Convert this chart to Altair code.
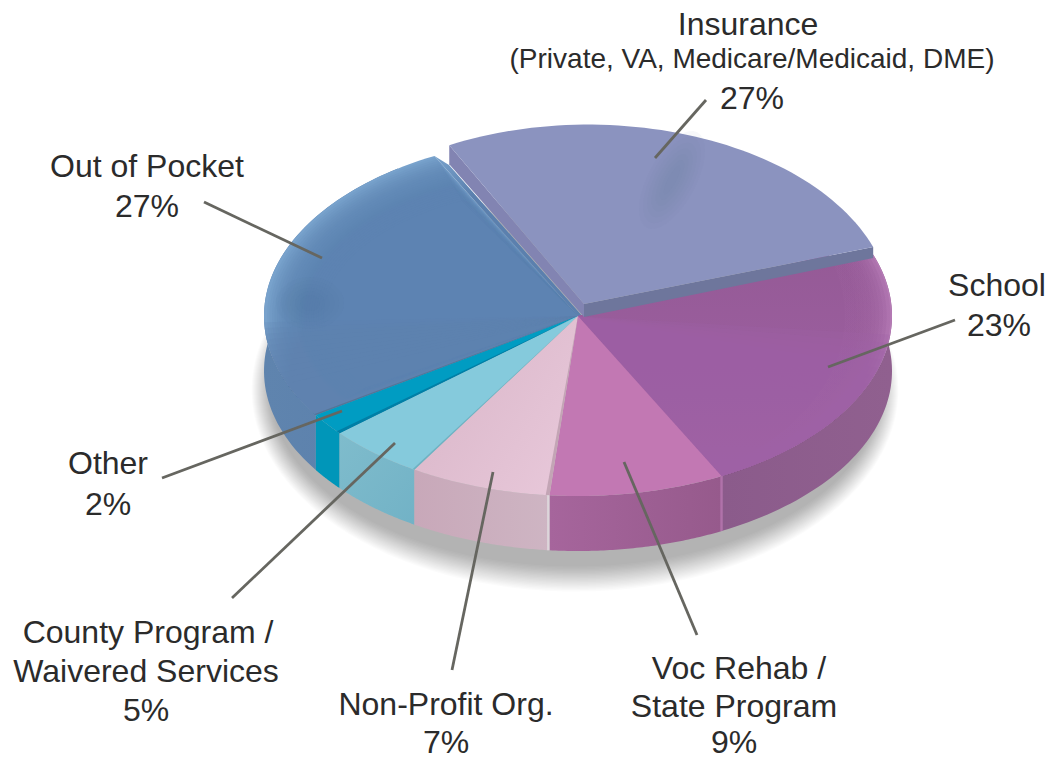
import numpy as np
import altair as alt

# ---- chart data -------------------------------------------------------
slices = ["School", "Voc Rehab / State Program", "Non-Profit Org.",
          "County Program / Waivered Services", "Other", "Out of Pocket", "Insurance"]
shares = [23, 9, 7, 5, 2, 27, 27]

label_lines = ["Insurance", "(Private, VA, Medicare/Medicaid, DME)", "27%",
               "Out of Pocket", "27%", "School", "23%", "Other", "2%",
               "County Program /", "Waivered Services", "5%",
               "Non-Profit Org.", "7%", "Voc Rehab /", "State Program", "9%"]
label_x = [748, 752, 752, 147, 147, 997, 999, 108, 108, 148, 146, 146, 446, 446, 739, 734, 734]
label_y = [25, 60, 99, 167, 207, 286, 326, 464, 505, 633, 672, 711, 705, 743, 669, 707, 743]
label_size = [32, 28, 32, 32, 32, 32, 32, 32, 32, 32, 32, 32, 32, 32, 32, 32, 32]

leader_x1 = [706, 204, 955, 162, 232, 452, 697]
leader_y1 = [100, 202, 320, 478, 598, 670, 635]
leader_x2 = [655, 322, 828, 342, 395, 493, 624]
leader_y2 = [158, 258, 367, 411, 443, 472, 462]

# ---- geometry of the tilted disc --------------------------------------
CX, CY, RX, RY, DEPTH = 578, 316, 314, 180, 55
START = 20.0


def rim(t, sx=1.0, sy=1.0, cx=CX, cy=CY):
    r = np.radians(t)
    return np.column_stack([cx + RX * sx * np.cos(r), cy - RY * sy * np.sin(r)])


def arc(t0, t1, n=60, **kw):
    return rim(np.linspace(t0, t1, n), **kw)


def poly(points):
    pts = [[float(x), float(y)] for x, y in points]
    pts.append(pts[0])
    return {"type": "Feature", "properties": {},
            "geometry": {"type": "Polygon", "coordinates": [pts]}}


def sector(t0, t1, sx=1.0, sy=1.0, cx=CX, cy=CY, apex=None):
    tip = apex if apex is not None else (cx, cy)
    return poly(np.vstack([[list(tip)], arc(t0, t1, sx=sx, sy=sy, cx=cx, cy=cy)]))


def wall(t0, t1):
    top = arc(t0, t1)
    low = top[::-1] + [0, DEPTH]
    return poly(np.vstack([top, low]))


def ellipse(sx, sy, cx, cy):
    return poly(rim(np.linspace(0, 358, 120), sx=sx, sy=sy, cx=cx, cy=cy))


def tilted_blob(cx, cy, rx, ry, rot):
    t = np.radians(np.linspace(0, 350, 36))
    c, s = np.cos(np.radians(rot)), np.sin(np.radians(rot))
    x, y = rx * np.cos(t), ry * np.sin(t)
    return poly(np.column_stack([cx + x * c - y * s, cy + x * s + y * c]))


def lin(c0, c1, x1=0, y1=0, x2=0, y2=1, mid=None):
    stops = [alt.GradientStop(color=c0, offset=0)]
    if mid is not None:
        stops.append(alt.GradientStop(color=c1, offset=mid))
    stops.append(alt.GradientStop(color=c1, offset=1))
    return alt.LinearGradient(gradient="linear", x1=x1, y1=y1, x2=x2, y2=y2, stops=stops)


layers = []


def add(feature, fill, opacity=1.0):
    layers.append(alt.Chart(alt.Data(values=[feature])).mark_geoshape(
        fill=fill, opacity=opacity, strokeWidth=0))


# boundaries of each slice, clockwise from START; the three lower-left
# boundaries are nudged to follow the perspective of the tilted disc
edges = START - np.cumsum([0] + shares) * 3.6
edges[3:6] -= 1.0
ang = {name: (edges[i], edges[i + 1]) for i, name in enumerate(slices)}

# ---- soft shadow below the disc ---------------------------------------
for k in np.linspace(1, 0, 20):
    add(ellipse(0.97 + 0.06 * k, 0.98 + 0.14 * k, CX - 3, CY + DEPTH + 19), "#000000", 0.0145)

# ---- Out of Pocket ----------------------------------------------------
t0, t1 = ang["Out of Pocket"]
add(wall(t0, -235), lin("#5b80ac", "#5f84ae", x1=1, y1=0, x2=0, y2=0))
add(sector(t0, t1), "#78a2cc")
for k in np.linspace(0, 1, 24):
    add(sector(t0, t1, sx=0.99 - 0.18 * k, sy=0.99 - 0.27 * k), "#5b80ae", 0.13)
for e in np.linspace(-178, -158, 12):
    add(sector(t0, e), "#5d82ae", 0.2)
for k in np.linspace(1, 0, 6):
    add(tilted_blob(310, 303, 10 + 24 * k, 8 + 18 * k, 0), "#4f7099", 0.05)
corner = rim(np.array([t1]))[0]
add(poly([corner, [449, 165], [584, 318], [CX, CY]]),
    lin("#78a2cc", "#5b80ae", x1=0, y1=0, x2=0.5, y2=0.5, mid=0.5))

# ---- Other ------------------------------------------------------------
t0, t1 = ang["Other"]
add(wall(t0, t1), "#0096b9")
add(sector(t0, t1), "#009cc2")

# ---- County -----------------------------------------------------------
t0, t1 = ang["County Program / Waivered Services"]
add(wall(t0, t1), lin("#7fbccc", "#72b2c6", x1=0, y1=0, x2=1, y2=1))
add(sector(t0, t1), "#85cadc")

# ---- Non-profit -------------------------------------------------------
t0, t1 = ang["Non-Profit Org."]
add(wall(t0, t1), lin("#c8a8b9", "#ceb5c3", x1=0, y1=0, x2=1, y2=0))
add(sector(t0, t1), lin("#d9b6c8", "#e8c8da", x1=0, y1=0.2, x2=1, y2=0.9))

# ---- Voc rehab --------------------------------------------------------
t0, t1 = ang["Voc Rehab / State Program"]
add(wall(t0, t1), lin("#a6659c", "#965a8c", x1=0, y1=0, x2=1, y2=0))

# ---- School -----------------------------------------------------------
t0, t1 = ang["School"]
add(wall(t0, t1), lin("#8b5b8b", "#90608f", x1=0, y1=0, x2=1, y2=0))
add(sector(t0, t1), "#b57ab5")
school_fill = lin("#955a96", "#a062a6")
for k in np.linspace(0, 1, 12):
    add(sector(t0, t1, sx=0.995 - 0.13 * k), school_fill, 0.25)
add(sector(t0, t1, sx=0.85), school_fill)
for e in np.linspace(-30, -6, 10):
    add(sector(t1, e), "#9e62a4", 0.28)

# Voc top goes over the School overlay
t0, t1 = ang["Voc Rehab / State Program"]
add(sector(t0, t1), "#c278b3")

# thin cut faces between neighbouring slices
bands = [("Voc Rehab / State Program", 1, 0.7, "#c3a5b5"),
         ("Non-Profit Org.", 1, 0.35, "#6fb1c1"),
         ("County Program / Waivered Services", 1, 0.8, "#007fa6"),
         ("Other", 1, 0.4, "#557595")]
for name, side, width, col in bands:
    t = ang[name][side]
    add(poly(np.vstack([[[CX, CY]], arc(t, t - width, n=4)])), col)

# small gaps between the walls
t = ang["Voc Rehab / State Program"][1]
add(wall(t, t - 0.45), "#ddd5da")
t = ang["School"][1]
add(wall(t + 0.25, t - 0.25), "#b072aa")

# ---- Insurance, pulled out of the pie ---------------------------------
t0, t1 = ang["Insurance"]
INS = dict(sx=303.5 / RX, sy=186 / RY, cx=588, cy=310.6)
APEX = (584, 304)
left = rim(np.array([t0]), **INS)[0]
right = rim(np.array([t1]), **INS)[0]
add(poly([left, left + [0, 19], [APEX[0], APEX[1] + 13], APEX]), "#8284b2")
add(poly([right, right + [0, 11], [APEX[0], APEX[1] + 13], APEX]), "#6e769c")
add(sector(t0, t1, apex=APEX, **INS), "#8b93bf")
for k in np.linspace(1, 0, 7):
    add(tilted_blob(672, 180, 16 + 38 * k, 4 + 20 * k, -62), "#757da3", 0.055)

# ---- leaders and labels -----------------------------------------------
leaders = alt.Chart(alt.Data(values=[
    {"x": a, "y": b, "x2": c, "y2": d}
    for a, b, c, d in zip(leader_x1, leader_y1, leader_x2, leader_y2)
])).mark_rule(color="#666660", strokeWidth=2.8).encode(
    longitude="x:Q", latitude="y:Q", longitude2="x2:Q", latitude2="y2:Q")

texts = alt.Chart(alt.Data(values=[
    {"t": t, "x": x, "y": y, "s": s}
    for t, x, y, s in zip(label_lines, label_x, label_y, label_size)
])).mark_text(font="Liberation Sans", color="#2b2b2b", baseline="middle", align="center").encode(
    longitude="x:Q", latitude="y:Q", text="t:N",
    size=alt.Size("s:Q", scale=None, legend=None))

chart = alt.layer(*layers, leaders, texts).project(
    type="identity", scale=1, translate=[-8, -8]
).properties(width=1039, height=746, padding=0,
             autosize=alt.AutoSizeParams(type="none")
).configure_view(stroke=None)

chart.save("out.html", embed_options={"renderer": "svg", "actions": False})
